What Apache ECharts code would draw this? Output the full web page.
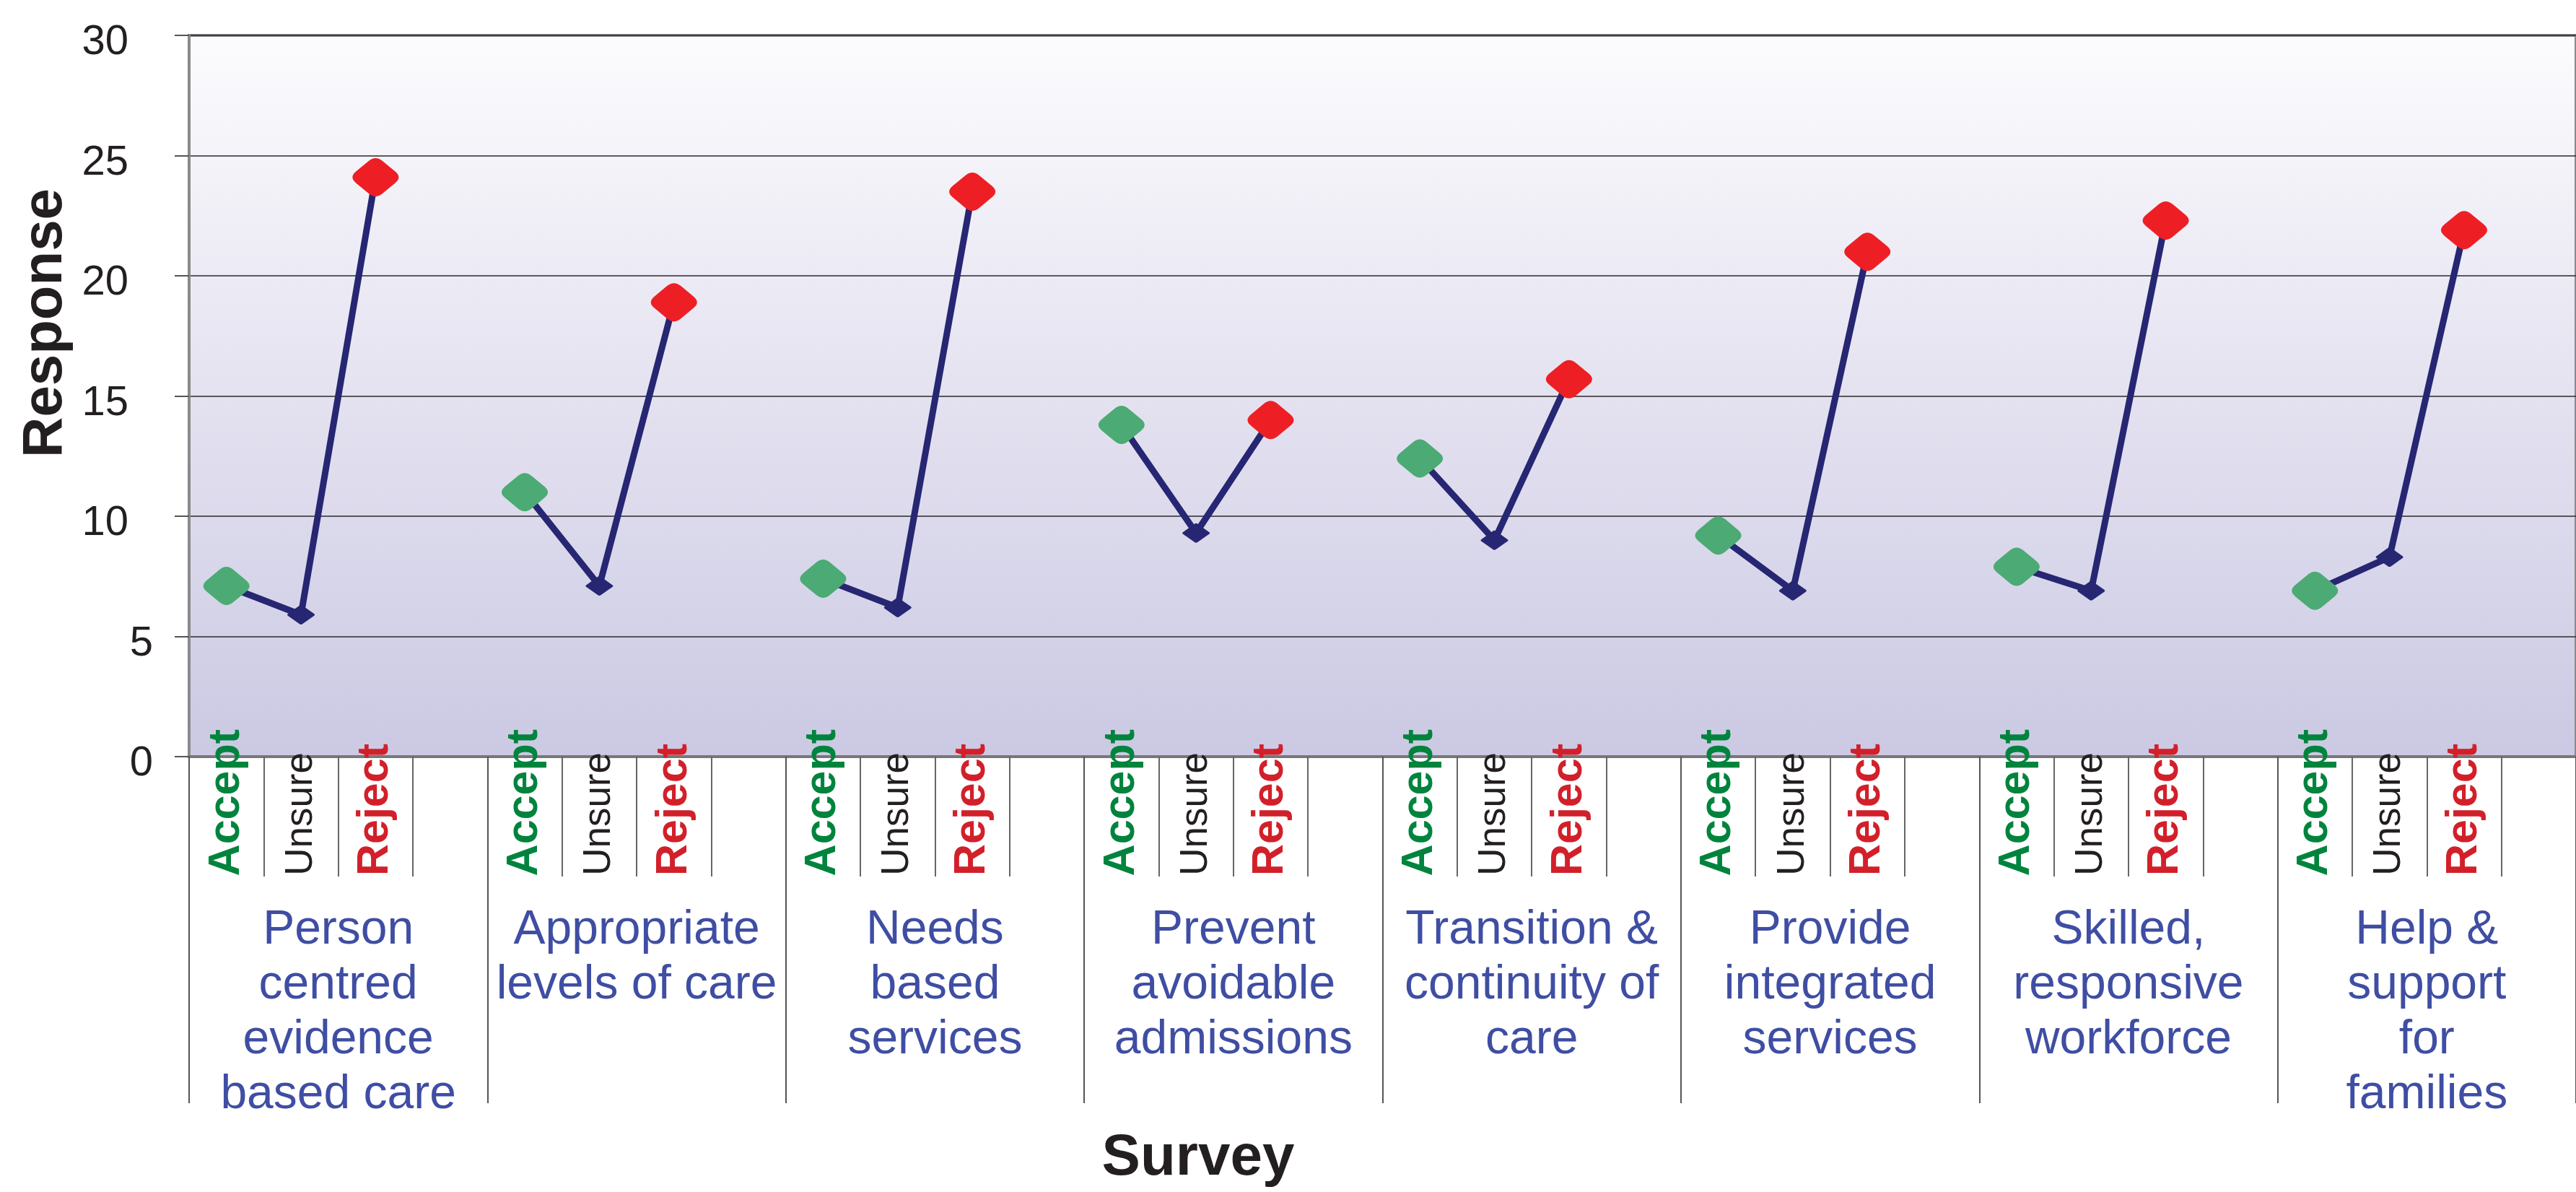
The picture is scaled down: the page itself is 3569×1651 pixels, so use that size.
<!DOCTYPE html>
<html>
<head>
<meta charset="utf-8">
<script src="https://cdn.jsdelivr.net/npm/echarts@6/dist/echarts.min.js"></script>
<style>
html,body{margin:0;padding:0;background:#ffffff;}
#chart{width:3569px;height:1651px;}
</style>
</head>
<body>
<div id="chart"></div>
<script>
// ---- data ----
const groups = [
  'Person\ncentred\nevidence\nbased care',
  'Appropriate\nlevels of care',
  'Needs\nbased\nservices',
  'Prevent\navoidable\nadmissions',
  'Transition &\ncontinuity of\ncare',
  'Provide\nintegrated\nservices',
  'Skilled,\nresponsive\nworkforce',
  'Help &\nsupport\nfor\nfamilies'
];
const responses = ['Accept', 'Unsure', 'Reject'];
const acceptValues = [7.1, 11.0, 7.4, 13.8, 12.4, 9.2, 7.9, 6.9];
const unsureValues = [5.9, 7.1, 6.2, 9.3, 9.0, 6.9, 6.9, 8.3];
const rejectValues = [24.1, 18.9, 23.5, 14.0, 15.7, 21.0, 22.3, 21.9];
const yMin = 0, yMax = 30, yStep = 5;
const yAxisTitle = 'Response';
const xAxisTitle = 'Survey';

// ---- styles ----
const FONT = 'Arial, "Liberation Sans", Helvetica, sans-serif';
const BIG_DIAMOND = 'path://M37,13 Q50,0 63,13 L87,37 Q100,50 87,63 L63,87 Q50,100 37,87 L13,63 Q0,50 13,37 Z';
const SMALL_DIAMOND = 'path://M45,5 Q50,0 55,5 L95,45 Q100,50 95,55 L55,95 Q50,100 45,95 L5,55 Q0,50 5,45 Z';
const respStyle = {
  Accept: { fill: '#4caa74', symbol: BIG_DIAMOND, symbolSize: [64, 53] },
  Unsure: { fill: '#262673', symbol: SMALL_DIAMOND, symbolSize: [38, 27] },
  Reject: { fill: '#ee1f24', symbol: BIG_DIAMOND, symbolSize: [64, 53] }
};
// label text styles (padding at the text end pushes shorter words toward a common baseline)
const respLabelRich = {
  Accept: { color: '#00843d', fontWeight: 'bold', fontSize: 61, fontFamily: FONT, padding: [0, 0, 0, 0] },
  Unsure: { color: '#231f20', fontWeight: 'normal', fontSize: 53, fontFamily: FONT, padding: [0, 32, 0, 0] },
  Reject: { color: '#d2202a', fontWeight: 'bold', fontSize: 61, fontFamily: FONT, padding: [0, 20, 0, 0] }
};
const LINE_COLOR = '#262673';

// ---- build slot axis & series data ----
const valuesByResp = { Accept: acceptValues, Unsure: unsureValues, Reject: rejectValues };
const slotCategories = [];
const seriesData = [];
groups.forEach(function (g, gi) {
  responses.forEach(function (r) {
    const st = respStyle[r];
    slotCategories.push(r);
    seriesData.push({
      value: valuesByResp[r][gi],
      symbol: st.symbol,
      symbolSize: st.symbolSize,
      itemStyle: { color: st.fill, borderWidth: 0 }
    });
  });
  slotCategories.push('');
  seriesData.push(null);
});

const chart = echarts.init(document.getElementById('chart'), null, { renderer: 'canvas' });
chart.setOption({
  animation: false,
  backgroundColor: '#ffffff',
  title: {
    text: xAxisTitle,
    left: 1655,
    top: 1560,
    textAlign: 'center',
    textStyle: { fontFamily: FONT, fontSize: 80, fontWeight: 'bold', color: '#231f20' }
  },
  grid: {
    left: 262, top: 49, right: -138, bottom: 603,
    show: true,
    borderColor: '#8a8a8a',
    borderWidth: 4,
    backgroundColor: {
      type: 'linear', x: 0, y: 0, x2: 0, y2: 1,
      colorStops: [
        { offset: 0, color: '#fcfcfe' },
        { offset: 0.5, color: '#e4e2f0' },
        { offset: 1, color: '#cbc9e3' }
      ]
    }
  },
  xAxis: [
    {
      type: 'category',
      gridIndex: 0,
      position: 'bottom',
      data: slotCategories,
      boundaryGap: true,
      axisLine: { show: true, lineStyle: { color: '#777777', width: 4 } },
      axisTick: { show: true, interval: 0, length: 166, lineStyle: { color: '#666666', width: 2 } },
      axisLabel: {
        interval: 0, rotate: 90, margin: -38,
        fontFamily: FONT, hideOverlap: false,
        formatter: function (v) { return v ? '{' + v + '|' + v + '}' : ''; },
        rich: respLabelRich
      },
      splitLine: { show: false }
    },
    {
      type: 'category',
      gridIndex: 0,
      position: 'bottom',
      data: groups,
      boundaryGap: true,
      axisLine: { show: false },
      axisTick: { show: true, interval: 0, length: 480, lineStyle: { color: '#555555', width: 2 } },
      axisLabel: {
        interval: 0, margin: 203, verticalAlign: 'top',
        fontFamily: FONT, fontSize: 66, lineHeight: 76, color: '#3f4ea3', hideOverlap: false
      },
      splitLine: { show: false }
    }
  ],
  yAxis: {
    type: 'value',
    min: yMin, max: yMax, interval: yStep,
    name: yAxisTitle,
    nameLocation: 'middle',
    nameGap: 145,
    nameTextStyle: { fontFamily: FONT, fontSize: 78, fontWeight: 'bold', color: '#231f20', padding: [0, 0, 0, 202] },
    axisLine: { show: true, lineStyle: { color: '#8a8a8a', width: 4 } },
    axisTick: { show: true, length: 20, lineStyle: { color: '#555555', width: 2 } },
    axisLabel: {
      margin: 50,
      formatter: function (v) { return v >= 10 ? '{w|' + v + '}' : '{n|' + v + '}'; },
      rich: {
        w: { fontFamily: FONT, fontSize: 58, color: '#231f20', padding: [20, 34, 0, 0] },
        n: { fontFamily: FONT, fontSize: 58, color: '#231f20', padding: [20, 0, 0, 0] }
      }
    },
    splitLine: { show: true, lineStyle: { color: '#2a2a2a', width: 1.5 } }
  },
  series: [
    {
      type: 'line',
      xAxisIndex: 0,
      yAxisIndex: 0,
      data: seriesData,
      connectNulls: false,
      lineStyle: { color: LINE_COLOR, width: 9 },
      emphasis: { disabled: true },
      z: 5
    }
  ]
});
</script>
</body>
</html>
